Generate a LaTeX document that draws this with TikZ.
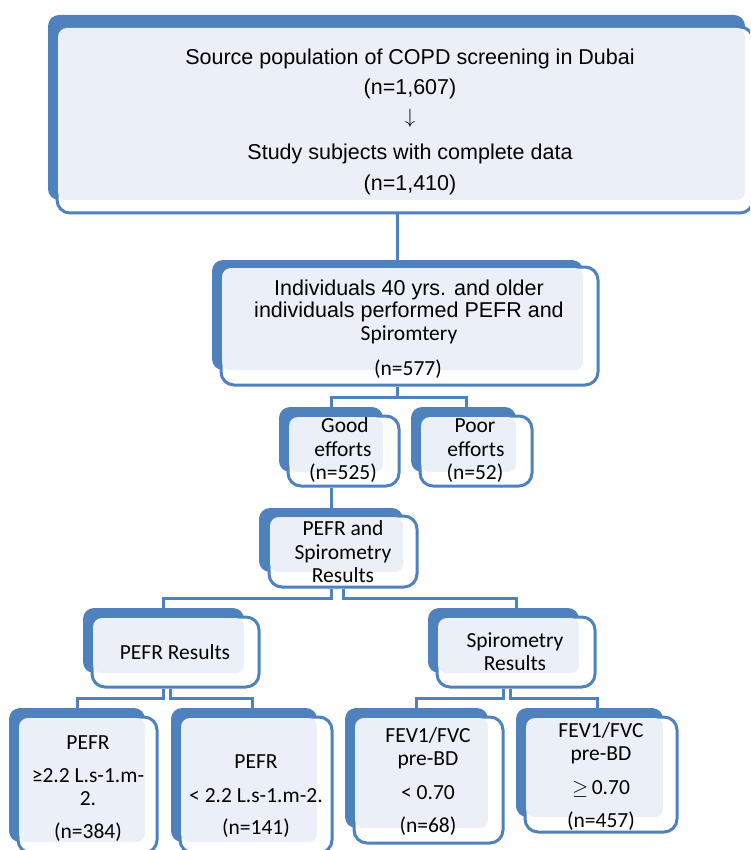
\documentclass[tikz,border=0pt]{standalone}
\usepackage{fontspec}
\setmainfont{Carlito}
\newfontfamily\arialf{Liberation Sans}
\usetikzlibrary{fit,calc}
\definecolor{bl}{HTML}{4F81BD}
\definecolor{lt}{HTML}{EBF0F8}
\newcommand\mkbox[9]{%
  \node[backbox, fit={(#2,#3) (#4,#5)}] (#1A) {};
  \node[framebox, fit={(#6,#7) (#8,#9)}] (#1B) {};
  \fill[lt, rounded corners=9pt] ($(#1B.north west)+(2.5,2.5)$) rectangle (#1A.south east);
}
\begin{document}
\begin{tikzpicture}[x=1pt,y=-1pt,
  backbox/.style={fill=bl, draw=none, rounded corners=11pt, inner sep=0pt},
  framebox/.style={fill=white, draw=bl, line width=3pt, rounded corners=13pt, inner sep=0pt},
  conn/.style={draw=bl, line width=3pt},
  txt/.style={anchor=base, inner sep=0pt, font=\fontsize{21.5}{26}\selectfont},
  atxt/.style={anchor=base, inner sep=0pt, font=\fontsize{21.5}{26}\selectfont\arialf}]
\useasboundingbox (0,0) rectangle (750,850);
\clip (0,0) rectangle (750,850);

% boxes
\mkbox{top}{48}{15}{745}{200}{57}{27}{753}{213}
\mkbox{mid}{212}{260}{583}{370}{221}{267}{598}{385}
\mkbox{good}{279}{407}{383}{472}{288}{416}{399}{486}
\mkbox{poor}{411}{407}{516}{472}{420}{416}{532}{486}
\mkbox{ps}{259}{508}{403}{572}{269}{516}{417}{587}
\mkbox{pr}{83}{608}{244}{673}{92}{617}{259}{687}
\mkbox{sr}{428}{608}{579}{673}{437}{617}{595}{687}
\mkbox{pa}{9}{708}{145}{842}{18}{717}{157}{853}
\mkbox{pb}{171}{708}{317}{842}{180}{717}{332}{853}
\mkbox{fa}{345}{708}{488}{828}{354}{717}{503}{843}
\mkbox{fb}{516}{708}{663}{817}{525}{717}{677}{832}

% connectors
\draw[conn] (midA.north) -- (midA.north |- topB.south);
\draw[conn] (midA.south |- midB.south) -- ++(0,11) coordinate (j1);
\draw[conn] (goodA.north) |- (j1) -| ($(poorA.north)+(3,0)$);
\draw[conn] (psA.north) -- (psA.north |- goodB.south);
\draw[conn] (psA.south |- psB.south) -- ++(0,10) -| (prA.north);
\draw[conn] (psB.south) -- ++(0,10) -| (srB.north |- srA.north);
\draw[conn] (prA.south |- prB.south) -- ++(0,10) -| (paA.north);
\draw[conn] ($(prA.south |- prB.south)+(7,0)$) -- ++(0,10) -| ($(pbA.north)+(8,0)$);
\draw[conn] (srA.south |- srB.south) -- ++(0,10) -| (faA.north);
\draw[conn] ($(srA.south |- srB.south)+(7,0)$) -- ++(0,10) -| ($(fbA.north)+(8,0)$);

% texts
\node[atxt] (t1) at (410,65) {Source population of COPD screening in Dubai};
\node[atxt] (t2) at (410,95) {(n=1,607)};
\node[anchor=center, inner sep=0pt, font=\fontsize{21.5}{26}\selectfont] (t3) at (410,118) {$\downarrow$};
\node[atxt] (t4) at (410,160) {Study subjects with complete data};
\node[atxt] (t5) at (410,191) {(n=1,410)};

\node[atxt] (m1) at (409,295) {Individuals 40 yrs. and older};
\node[atxt] (m2) at (409,317) {individuals performed PEFR and};
\node[txt] (m3) at (409,340) {Spiromtery};
\node[txt] (m4) at (408,375) {(n=577)};

\node[txt] (g1) at (345,432) {Good};
\node[txt] (g2) at (343,456) {efforts};
\node[txt] (g3) at (343,479) {(n=525)};
\node[txt] (p1) at (475,432) {Poor};
\node[txt] (p2) at (476,456) {efforts};
\node[txt] (p3) at (475,479) {(n=52)};

\node[txt] (s1) at (343,535) {PEFR and};
\node[txt] (s2) at (343,559) {Spirometry};
\node[txt] (s3) at (343,582) {Results};

\node[txt] (r1) at (175,659) {PEFR Results};
\node[txt] (r2) at (515,647) {Spirometry};
\node[txt] (r3) at (515,670) {Results};

\node[txt] (a1) at (88,749) {PEFR};
\node[txt] (a2) at (88,782) {≥2.2 L.s-1.m-};
\node[txt] (a3) at (88,805) {2.};
\node[txt] (a4) at (88,838) {(n=384)};

\node[txt] (b1) at (256,768) {PEFR};
\node[txt] (b2) at (256,802) {< 2.2 L.s-1.m-2.};
\node[txt] (b3) at (256,834) {(n=141)};

\node[txt] (c1) at (428,742) {FEV1/FVC};
\node[txt] (c2) at (428,765) {pre-BD};
\node[txt] (c3) at (428,799) {< 0.70};
\node[txt] (c4) at (428,832) {(n=68)};

\node[txt] (d1) at (601,737) {FEV1/FVC};
\node[txt] (d2) at (601,760) {pre-BD};
\node[txt] (d3) at (601,794) {$\geq$\,0.70};
\node[txt] (d4) at (601,827) {(n=457)};
\end{tikzpicture}
\end{document}
